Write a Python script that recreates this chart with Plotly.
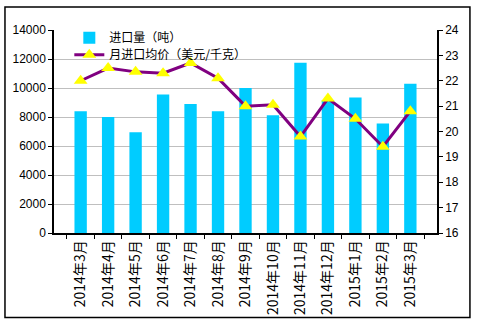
import plotly.graph_objects as go

months = ["2014年3月", "2014年4月", "2014年5月", "2014年6月", "2014年7月", "2014年8月",
          "2014年9月", "2014年10月", "2014年11月", "2014年12月", "2015年1月", "2015年2月", "2015年3月"]
volume = [8400, 8000, 6950, 9550, 8900, 8400, 10000, 8120, 11750, 9150, 9350, 7550, 10300]
price = [22.0, 22.5, 22.35, 22.3, 22.7, 22.1, 21.0, 21.05, 19.8, 21.3, 20.5, 19.4, 20.8]

fig = go.Figure()
fig.add_trace(go.Bar(x=months, y=volume, name="进口量（吨）", marker_color="#00CCFF",
                     marker_line_width=0, width=0.45, legend="legend"))
fig.add_trace(go.Scatter(x=months, y=price, name="月进口均价（美元/千克）", yaxis="y2",
                         mode="lines+markers", legend="legend2",
                         line=dict(color="#800080", width=3),
                         marker=dict(symbol="triangle-up", size=12, color="#FFFF00",
                                     line=dict(width=0))))

leg_common = dict(x=0.04, xanchor="left", yanchor="middle", bgcolor="rgba(255,255,255,0)",
                  font=dict(family="Noto Sans CJK SC, sans-serif", size=12),
                  itemwidth=30, borderwidth=0)

fig.update_layout(
    width=479, height=327,
    margin=dict(l=54, r=42, t=30, b=94),
    paper_bgcolor="white", plot_bgcolor="white",
    font=dict(family="Liberation Sans, Arial, sans-serif", size=12, color="black"),
    showlegend=True,
    legend=dict(y=0.962, **leg_common),
    legend2=dict(y=0.878, **leg_common),
    xaxis=dict(type="category", tickangle=-90, tickson="boundaries", ticks="outside",
               ticklen=4, tickcolor="black", showline=True, linecolor="black", linewidth=1.5,
               tickfont=dict(family="Noto Sans CJK SC, sans-serif", size=14),
               showgrid=False),
    yaxis=dict(range=[0, 14000], dtick=2000, tickformat="d", showgrid=True,
               gridcolor="#BFBFBF", gridwidth=1,
               showline=True, linecolor="black", linewidth=1.5, ticks="outside", ticklen=4,
               tickcolor="black", zeroline=False),
    yaxis2=dict(range=[16, 24], dtick=1, overlaying="y", side="right", showgrid=False,
                showline=True, linecolor="black", linewidth=1.5, ticks="outside", ticklen=4,
                tickcolor="black", zeroline=False),
    bargap=0.55,
    shapes=[dict(type="rect", xref="paper", yref="paper", x0=-0.128, x1=1.086,
                 y0=-0.416, y1=1.113, line=dict(color="black", width=1.5), layer="below"),
            dict(type="rect", xref="paper", yref="paper", x0=0.047, x1=0.54,
                 y0=0.84, y1=1.0, fillcolor="white", line=dict(width=0), layer="between")],
)

fig.write_html("out.html")
